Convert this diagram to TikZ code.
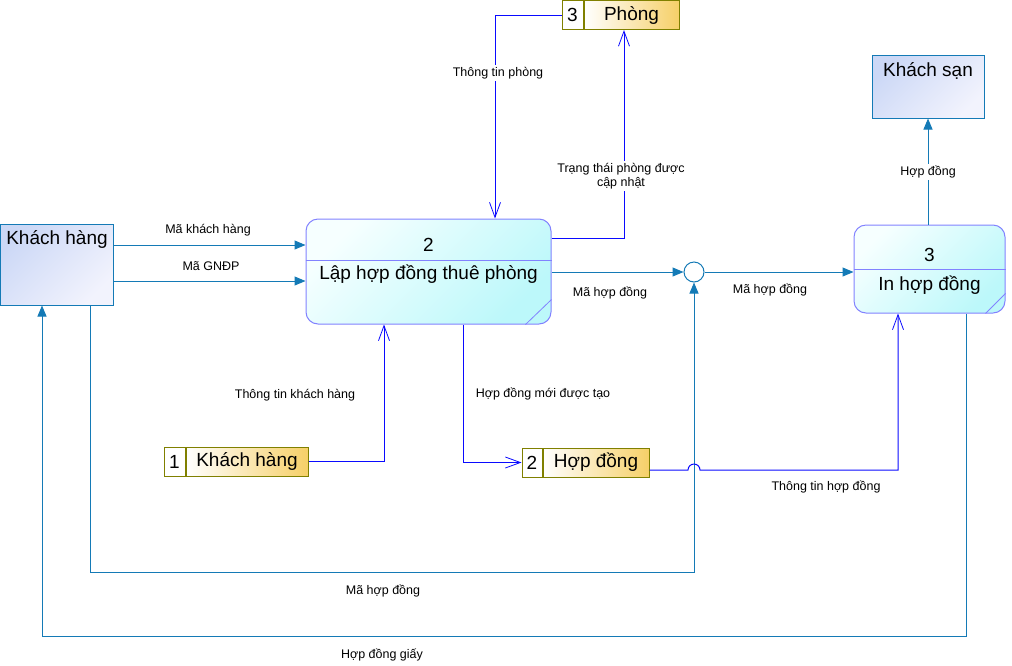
\documentclass[tikz,border=0pt]{standalone}
\usepackage{fontspec}
\setmainfont{Liberation Sans}
\usetikzlibrary{arrows.meta}
\definecolor{teal1}{RGB}{20,122,182}
\definecolor{blue1}{RGB}{10,10,255}
\definecolor{pborder}{RGB}{130,130,255}
\definecolor{olive1}{RGB}{128,128,0}
\definecolor{entA}{RGB}{204,216,246}
\definecolor{entB}{RGB}{242,243,253}
\definecolor{procA}{RGB}{246,255,255}
\definecolor{procB}{RGB}{188,248,250}
\definecolor{gold1}{RGB}{246,208,104}
\begin{document}
\begin{tikzpicture}[x=1pt,y=-1pt,
  big/.style={font=\fontsize{19}{22}\selectfont, inner sep=0pt},
  lbl/.style={font=\fontsize{12.5}{14.5}\selectfont, inner sep=1pt, align=center},
  lblw/.style={lbl, fill=white, inner sep=2pt},
  entity/.style={draw=teal1, line width=1pt, left color=entA, right color=entB, shading angle=45, inner sep=0pt},
  procbox/.style={draw=pborder, line width=1pt, rounded corners=12pt, left color=procA, right color=procB, shading angle=45, inner sep=0pt},
  pline/.style={draw=pborder, line width=0.8pt},
  storenum/.style={draw=olive1, line width=1pt, fill=white, minimum height=29pt, inner sep=0pt, font=\fontsize{19}{22}\selectfont},
  storename/.style={draw=olive1, line width=1pt, left color=white, right color=gold1, minimum height=29pt, inner sep=0pt, font=\fontsize{19}{22}\selectfont},
  tflow/.style={draw=teal1, line width=1pt, -{Triangle[length=11pt,width=9pt]}},
  bflow/.style={draw=blue1, line width=1pt, -{Straight Barb[length=15pt,width=11pt,line width=0.8pt]}},
  junc/.style={circle, draw=teal1, line width=1pt, fill=white, minimum size=20pt, inner sep=0pt}
]
\useasboundingbox (0,0) rectangle (1012,665);

% external entities
\node[entity, minimum width=113pt, minimum height=81pt] (kh) at (56.5,264.5) {};
\node[big] (khT) at (57,239) {Khách hàng};
\node[entity, minimum width=112pt, minimum height=63pt] (ks) at (928,86.5) {};
\node[big] (ksT) at (928,71) {Khách sạn};

% processes
\node[procbox, minimum width=245pt, minimum height=105pt] (p2) at (428.5,271.5) {};
\coordinate (d2) at (0,260);
\draw[pline] (p2.west |- d2) -- (p2.east |- d2);
\draw[pline] ([xshift=-26pt]p2.south east) -- ([yshift=25pt]p2.south east);
\node[big] (p2n) at (428.5,245) {2};
\node[big] (p2T) at (428.5,274) {Lập hợp đồng thuê phòng};

\node[procbox, minimum width=151pt, minimum height=88pt] (p3) at (929.5,269) {};
\coordinate (d3) at (0,269);
\draw[pline] (p3.west |- d3) -- (p3.east |- d3);
\draw[pline] ([xshift=-20pt]p3.south east) -- ([yshift=20pt]p3.south east);
\node[big] (p3n) at (929.5,255) {3};
\node[big] (p3T) at (929.5,285) {In hợp đồng};

% data stores
\node[storenum, minimum width=21pt] (s3n) at (572.5,15) {3};
\node[storename, minimum width=95pt, anchor=west] (s3) at (s3n.east) {Phòng};
\node[storenum, minimum width=21pt] (s1n) at (174.5,461.5) {1};
\node[storename, minimum width=122pt, anchor=west] (s1) at (s1n.east) {Khách hàng};
\node[storenum, minimum width=20pt] (s2n) at (532,462.5) {2};
\node[storename, minimum width=106pt, anchor=west] (s2) at (s2n.east) {Hợp đồng};

% junction
\node[junc] (jc) at (694,272) {};

% teal flows
\draw[tflow] ([yshift=19.5pt]kh.east) -- ([yshift=26.5pt]p2.west);
\draw[tflow] ([yshift=-16.5pt]kh.east) -- ([yshift=-9.5pt]p2.west);
\draw[tflow] ([yshift=-0.5pt]p2.east) -- (jc.west);
\draw[tflow] (jc.east) -- (jc.east -| p3.west);
\coordinate (b1) at (0,572);
\draw[tflow] ([xshift=33.5pt]kh.south) |- (b1 -| jc.south) -- (jc.south);
\coordinate (b2) at (0,636);
\coordinate (khin) at ([xshift=-14.5pt]kh.south);
\draw[tflow] ([xshift=36.5pt]p3.south) |- (b2 -| khin) -- (khin);
\draw[tflow] (ks.south |- p3.north) -- (ks.south);

% blue flows
\draw[bflow] (s3n.west) -| ([xshift=66.5pt]p2.north);
\draw[bflow] ([yshift=33.5pt]p2.east) -| ([xshift=-7.5pt]s3.south);
\draw[bflow] (s1.east) -| ([xshift=-44.5pt]p2.south);
\draw[bflow] ([xshift=34.5pt]p2.south) |- (s2n.west);
\coordinate (hp) at ([yshift=-7.5pt]s2.east);
\coordinate (p3in) at ([xshift=-31.5pt]p3.south);
\draw[bflow] (hp) -- ([xshift=-6pt]hp -| jc) arc[start angle=180,end angle=0,radius=6pt] -- (hp -| p3in) -- (p3in);

% labels
\node[lbl] (l1) at (208,230) {Mã khách hàng};
\node[lbl] (l2) at (211,266) {Mã GNĐP};
\node[lbl] (l3) at (610,293) {Mã hợp đồng};
\node[lbl] (l4) at (770,290) {Mã hợp đồng};
\node[lblw] (l5) at (498,73) {Thông tin phòng};
\node[lblw] (l6) at (621,176) {Trạng thái phòng được\\cập nhật};
\node[lbl] (l7) at (295,395) {Thông tin khách hàng};
\node[lbl] (l8) at (543,394) {Hợp đồng mới được tạo};
\node[lbl] (l9) at (826,487) {Thông tin hợp đồng};
\node[lbl] (l10) at (383,591) {Mã hợp đồng};
\node[lbl] (l11) at (382,655) {Hợp đồng giấy};
\node[lblw] (l12) at (928,172) {Hợp đồng};
\end{tikzpicture}
\end{document}
